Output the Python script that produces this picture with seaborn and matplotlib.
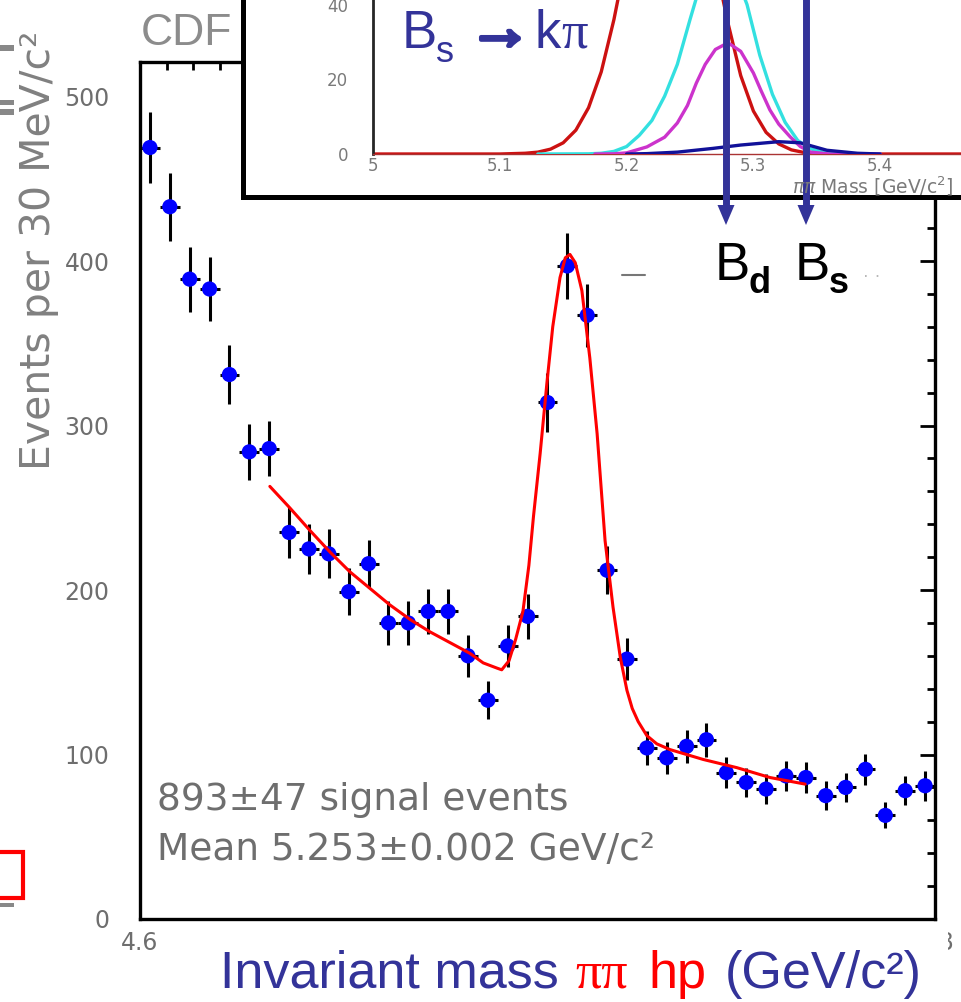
import matplotlib
matplotlib.use("Agg")
import matplotlib.pyplot as plt
import matplotlib.patheffects as pe
from matplotlib.patches import Rectangle, Polygon
from matplotlib.lines import Line2D
from matplotlib.ticker import MultipleLocator, FuncFormatter
import pandas as pd
import seaborn as sns

# ---- main histogram: pi-pi invariant mass, 30 MeV bins ----
bin_centers = [4.615, 4.645, 4.675, 4.705, 4.735, 4.765, 4.795, 4.825, 4.855, 4.885,
               4.915, 4.945, 4.975, 5.005, 5.035, 5.065, 5.095, 5.125, 5.155, 5.185,
               5.215, 5.245, 5.275, 5.305, 5.335, 5.365, 5.395, 5.425, 5.455, 5.485,
               5.515, 5.545, 5.575, 5.605, 5.635, 5.665, 5.695, 5.725, 5.755, 5.785]
counts = [469, 433, 389, 383, 331, 284, 286, 235, 225, 222,
          199, 216, 180, 180, 187, 187, 160, 133, 166, 184,
          314, 397, 367, 212, 158, 104, 98, 105, 109, 89,
          83, 79, 87, 86, 75, 80, 91, 63, 78, 81]
count_errors = [21.7, 20.8, 19.7, 19.6, 18.2, 16.9, 16.9, 15.3, 15.0, 14.9,
                14.1, 14.7, 13.4, 13.4, 13.7, 13.7, 12.6, 11.5, 12.9, 13.6,
                17.7, 19.9, 19.2, 14.6, 12.6, 10.2, 9.9, 10.2, 10.4, 9.4,
                9.1, 8.9, 9.3, 9.3, 8.7, 8.9, 9.5, 7.9, 8.8, 9.0]
half_bin = 0.015

# fitted signal + background curve
fit_mass = [4.796, 4.826, 4.857, 4.887, 4.917, 4.947, 4.977, 5.008, 5.038, 5.068,
            5.098, 5.118, 5.139, 5.146, 5.157, 5.167, 5.178, 5.187, 5.194, 5.204,
            5.214, 5.223, 5.234, 5.242, 5.249, 5.257, 5.267, 5.279, 5.290, 5.302,
            5.314, 5.325, 5.335, 5.343, 5.352, 5.365, 5.380, 5.400, 5.450, 5.501,
            5.551, 5.604]
fit_events = [263, 250, 236, 223, 211, 201, 191, 182, 174.5, 168,
              161.5, 155.7, 152.5, 151.5, 157, 170, 187, 215, 245, 283,
              325, 360, 390, 402, 404, 399, 382, 341, 295, 230,
              189.6, 159, 139, 128, 120, 111.5, 106.5, 103, 97, 92,
              86, 82]

# ---- inset: simulated mass shapes of the individual modes ----
red_mass = [5.00, 5.10, 5.12, 5.13, 5.14, 5.15, 5.16, 5.17, 5.18, 5.19,
            5.20, 5.21, 5.22, 5.234, 5.25, 5.26, 5.27, 5.28, 5.29, 5.30,
            5.31, 5.32, 5.33, 5.34, 5.35, 5.36, 5.50]
red_yield = [0, 0, 0.2, 0.5, 1.3, 3.0, 6.4, 12.4, 22, 36,
             53, 70, 84.5, 93, 83, 69, 51, 35, 21, 11.5,
             5.8, 2.7, 1.1, 0.4, 0.1, 0, 0]
cyan_mass = [5.13, 5.17, 5.18, 5.19, 5.20, 5.21, 5.22, 5.23, 5.24, 5.25,
             5.26, 5.273, 5.285, 5.295, 5.305, 5.315, 5.325, 5.335, 5.345, 5.355,
             5.37, 5.40]
cyan_yield = [0, 0.05, 0.2, 0.7, 2.0, 5.0, 9.0, 15.5, 24, 36,
              47.5, 54, 49, 40, 26.5, 16, 8.5, 3.6, 1.4, 0.5,
              0.1, 0]
magenta_mass = [5.175, 5.19, 5.20, 5.216, 5.23, 5.24, 5.248, 5.255, 5.262, 5.27,
                5.28, 5.29, 5.30, 5.306, 5.313, 5.32, 5.329, 5.337, 5.345, 5.36, 5.40]
magenta_yield = [0, 0.05, 0.3, 1.9, 4.5, 8.3, 13, 19, 24, 28,
                 29.8, 27.5, 21.7, 17, 11.8, 8, 4.6, 2, 0.5, 0, 0]
navy_mass = [5.20, 5.216, 5.24, 5.268, 5.29, 5.31, 5.32, 5.337, 5.358, 5.382, 5.40]
navy_yield = [0, 0.1, 0.5, 1.5, 2.4, 3.0, 3.3, 3.0, 1.0, 0.2, 0]

inset_y_ticks = [0, 20, 40]
main_x_range = (4.6, 5.8)
main_y_range = (0, 521)
# x tick labels left uncovered by the axis title
shown_x_labels = ['4.6', '5.8']

W, H = 962, 1002
sns.set_style("white")
plt.rcParams['font.family'] = ['DejaVu Sans']

fig = plt.figure(figsize=(W / 100, H / 100), dpi=100)


def fx(px):
    return px / W


def fy(py):
    return 1 - py / H


BLUE_TXT = '#333399'
GREY = '#6e6e6e'

# ---------------- main axes ----------------
ax = fig.add_axes([fx(140), fy(919), fx(935) - fx(140), fy(62) - fy(919)], zorder=1)
df_main = pd.DataFrame({'mass': bin_centers, 'events': counts})
ax.errorbar(bin_centers, counts, yerr=count_errors, xerr=half_bin, fmt='none',
            ecolor='black', elinewidth=2.2, capsize=0, zorder=3)
sns.scatterplot(data=df_main, x='mass', y='events', ax=ax, color='#0000ff',
                s=120, edgecolor='none', zorder=4, legend=False)
sns.lineplot(x=fit_mass, y=fit_events, ax=ax, color='#ff0000', lw=2.2,
             sort=False, estimator=None, zorder=5)
ax.set_xlim(*main_x_range)
ax.set_ylim(*main_y_range)
ax.set_xlabel('')
ax.set_ylabel('')
ax.xaxis.set_major_locator(MultipleLocator(0.2))
ax.xaxis.set_minor_locator(MultipleLocator(0.04))
ax.yaxis.set_major_locator(MultipleLocator(100))
ax.yaxis.set_minor_locator(MultipleLocator(20))
ax.xaxis.set_major_formatter(FuncFormatter(
    lambda v, p: ('%g' % round(v, 2)) if ('%g' % round(v, 2)) in shown_x_labels else ''))
ax.tick_params(which='both', direction='in', top=True, right=True, width=2,
               color='black', labelcolor=GREY, labelsize=17)
ax.tick_params(which='major', length=11)
ax.tick_params(which='minor', length=6)
ax.tick_params(axis='y', pad=22)
ax.tick_params(axis='x', pad=9)
for sp in ax.spines.values():
    sp.set_linewidth(2.4)
    sp.set_color('black')

fig.text(fx(157), fy(810), '893\u00b147 signal events', fontsize=27,
         color=GREY, ha='left', va='baseline')
fig.text(fx(157), fy(860), 'Mean 5.253\u00b10.002 GeV/c\u00b2', fontsize=27,
         color=GREY, ha='left', va='baseline')

# y axis title
fig.text(fx(50), fy(470), 'Events per 30 MeV/c\u00b2', rotation=90,
         rotation_mode='anchor', ha='left', va='baseline', fontsize=29.5,
         color='#808080')
fig.text(fx(141), fy(45), 'CDF', fontsize=32, color='#8c8c8c',
         family='Liberation Sans', ha='left', va='baseline')

# ---------------- inset ----------------
fig.add_artist(Rectangle((fx(243.5), fy(196.5)), fx(1100) - fx(243.5),
                         fy(-100) - fy(196.5), transform=fig.transFigure,
                         facecolor='white', edgecolor='black', lw=3.6,
                         zorder=1.5))

axi = fig.add_axes([fx(373), fy(154), 634 / W, 224 / H], zorder=2)
axi.patch.set_visible(False)
for xs, ys, col, z in [(red_mass, red_yield, '#cc1111', 2),
                       (cyan_mass, cyan_yield, '#33e0e0', 3),
                       (magenta_mass, magenta_yield, '#cc33cc', 4),
                       (navy_mass, navy_yield, '#111199', 5)]:
    sns.lineplot(x=xs, y=ys, ax=axi, color=col, lw=2.4, sort=False,
                 estimator=None, zorder=z)
axi.set_xlim(5.0, 5.5)
axi.set_ylim(0, 60)
axi.set_xlabel('')
axi.set_ylabel('')
axi.set_yticks(inset_y_ticks)
axi.yaxis.set_minor_locator(MultipleLocator(5))
axi.xaxis.set_major_locator(MultipleLocator(0.1))
axi.xaxis.set_minor_locator(MultipleLocator(0.02))
axi.xaxis.set_major_formatter(FuncFormatter(lambda v, p: '%g' % round(v, 2)))
axi.spines['top'].set_visible(False)
axi.spines['right'].set_visible(False)
axi.spines['left'].set_linewidth(2.0)
axi.spines['bottom'].set_linewidth(1.0)
axi.spines['bottom'].set_color('#aa3333')
axi.tick_params(which='both', direction='in', width=1.5, color='#222222',
                labelcolor='#7a7a7a', labelsize=12)
axi.tick_params(axis='y', which='major', length=9, pad=18)
axi.tick_params(axis='y', which='minor', length=7)
axi.tick_params(axis='x', which='major', length=5, pad=2)
axi.tick_params(axis='x', which='minor', length=4)
fig.text(fx(792), fy(193), r'$\pi\pi$ Mass [GeV/c$^2$]', fontsize=13.5,
         color='#7a7a7a', ha='left', va='baseline', zorder=3)

# decay label inside the inset
fig.text(fx(402), fy(48), 'B', fontsize=38, color=BLUE_TXT,
         family='Liberation Sans', va='baseline', zorder=3)
fig.text(fx(436), fy(62), 's', fontsize=26, color=BLUE_TXT,
         family='Liberation Sans', va='baseline', zorder=3)
fig.text(fx(468), fy(49), '\u2192', fontsize=46, color=BLUE_TXT,
         family=['Liberation Sans', 'DejaVu Sans'], weight='bold',
         va='baseline', zorder=3,
         path_effects=[pe.withStroke(linewidth=3, foreground=BLUE_TXT)])
fig.text(fx(535), fy(48), 'k', fontsize=38, color=BLUE_TXT,
         family='Liberation Sans', va='baseline', zorder=3)
fig.text(fx(561), fy(48), '\u03c0', fontsize=38, color=BLUE_TXT,
         family='Liberation Serif', va='baseline', zorder=3)

# arrows marking the B_d and B_s masses
for px in (726, 806):
    fig.add_artist(Line2D([fx(px), fx(px)], [fy(-5), fy(210)], lw=5,
                          color=BLUE_TXT, transform=fig.transFigure,
                          solid_capstyle='butt', zorder=3))
    fig.add_artist(Polygon([(fx(px - 8.5), fy(205)), (fx(px + 8.5), fy(205)),
                            (fx(px), fy(225))], closed=True,
                           transform=fig.transFigure, facecolor=BLUE_TXT,
                           edgecolor='none', zorder=3))
fig.text(fx(715), fy(280), 'B', fontsize=38, color='black',
         family='Liberation Sans', va='baseline', zorder=3)
fig.text(fx(749), fy(293), 'd', fontsize=26, color='black', weight='bold',
         family='Liberation Sans', va='baseline', zorder=3)
fig.text(fx(795), fy(280), 'B', fontsize=38, color='black',
         family='Liberation Sans', va='baseline', zorder=3)
fig.text(fx(829), fy(293), 's', fontsize=26, color='black', weight='bold',
         family='Liberation Sans', va='baseline', zorder=3)

# stray marks left over on the slide
fig.add_artist(Line2D([fx(622), fx(645)], [fy(275), fy(275)], lw=1.5,
                      color='#777777', transform=fig.transFigure, zorder=3))
fig.add_artist(Line2D([fx(865), fx(887)], [fy(276), fy(276)], lw=1.2,
                      color='#aaaaaa', ls=(0, (1, 6)), transform=fig.transFigure,
                      zorder=3))
for y0, y1 in [(45, 51), (100, 105), (109, 115), (903, 907)]:
    fig.add_artist(Rectangle((0, fy(y1)), fx(14), fy(y0) - fy(y1),
                             transform=fig.transFigure, facecolor='#888888',
                             edgecolor='none', zorder=3))
fig.add_artist(Rectangle((fx(-10), fy(898)), fx(33), fy(852) - fy(898),
                         transform=fig.transFigure, facecolor='none',
                         edgecolor='#ff0000', lw=3, zorder=3))

# ---------------- x axis title ----------------
fig.add_artist(Rectangle((fx(197), 0), fx(948) - fx(197), fy(927),
                         transform=fig.transFigure, facecolor='white',
                         edgecolor='none', zorder=4))
title_y = fy(988)
fig.text(fx(220), title_y, 'Invariant mass', fontsize=37.5, color=BLUE_TXT,
         family='Liberation Sans', va='baseline', zorder=5)
fig.text(fx(575), title_y, '\u03c0\u03c0', fontsize=37.5, color='#ff0000',
         family='Liberation Serif', va='baseline', zorder=5)
fig.text(fx(648), title_y, 'hp', fontsize=37.5, color='#ff0000',
         family='Liberation Sans', va='baseline', zorder=5)
fig.text(fx(725), title_y, '(GeV/c\u00b2)', fontsize=37.5, color=BLUE_TXT,
         family='Liberation Sans', va='baseline', zorder=5)

fig.savefig('out.png', dpi=100)
